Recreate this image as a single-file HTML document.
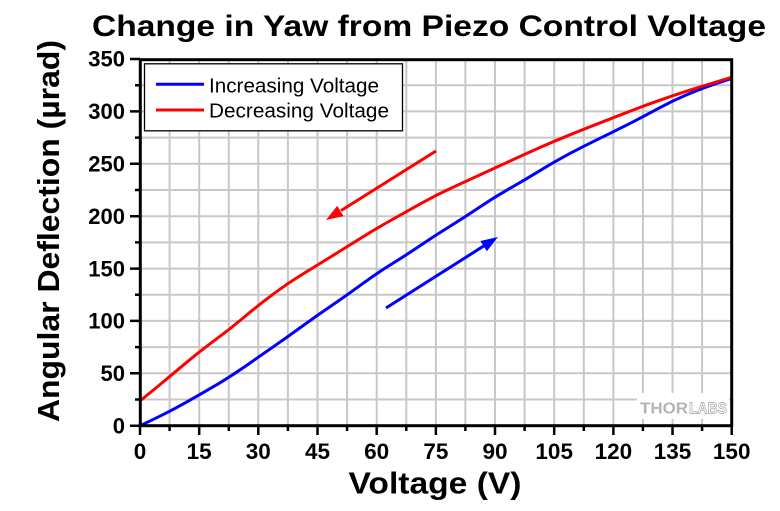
<!DOCTYPE html>
<html><head><meta charset="utf-8"><style>
html,body{margin:0;padding:0;background:#fff;}
svg{display:block;}
text{font-family:"Liberation Sans",Arial,sans-serif;}
</style></head><body>
<svg width="780" height="511" viewBox="0 0 780 511" xmlns="http://www.w3.org/2000/svg">
<rect width="780" height="511" fill="#fff"/>
<g stroke="#c8c8c8" stroke-width="2" fill="none">
<path d="M169.6 60V425.7M199.2 60V425.7M228.8 60V425.7M258.3 60V425.7M287.9 60V425.7M317.5 60V425.7M347.1 60V425.7M376.7 60V425.7M406.3 60V425.7M435.9 60V425.7M465.4 60V425.7M495 60V425.7M524.6 60V425.7M554.2 60V425.7M583.8 60V425.7M613.4 60V425.7M642.9 60V425.7M672.5 60V425.7M702.1 60V425.7"/>
<path d="M140 399.5H731.7M140 373.3H731.7M140 347.1H731.7M140 320.9H731.7M140 294.7H731.7M140 268.6H731.7M140 242.4H731.7M140 216.2H731.7M140 190H731.7M140 163.8H731.7M140 137.6H731.7M140 111.4H731.7M140 85.2H731.7"/>
</g>
<rect x="637" y="393" width="92" height="26" fill="#fff"/>
<text x="640" y="413.3" font-size="16" font-weight="bold" fill="#b4b4b4" textLength="48" lengthAdjust="spacingAndGlyphs">THOR</text>
<text x="689" y="413.3" font-size="16" font-weight="bold" fill="#fff" stroke="#b4b4b4" stroke-width="0.9" textLength="38" lengthAdjust="spacingAndGlyphs">LABS</text>

<path fill="none" stroke="#0000ff" stroke-width="3" stroke-linejoin="round" d="M140,425.7 L154.8,418.7 Q169.6,411.7 184.4,403.35 Q199.2,395 214,386.35 Q228.8,377.7 243.55,367.5 Q258.3,357.3 273.1,346.95 Q287.9,336.6 302.7,325.85 Q317.5,315.1 332.3,305.1 Q347.1,295.1 361.9,284.2 Q376.7,273.3 391.5,264.15 Q406.3,255 421.1,245 Q435.9,235 450.65,225.9 Q465.4,216.8 480.2,206.8 Q495,196.8 509.8,188.45 Q524.6,180.1 539.4,170.95 Q554.2,161.8 569,153.95 Q583.8,146.1 598.6,138.95 Q613.4,131.8 628.15,124.3 Q642.9,116.8 657.7,108.8 Q672.5,100.8 687.3,94.55 Q702.1,88.3 716.9,83.35 L731.7,78.4"/>
<path fill="none" stroke="#ff0000" stroke-width="3" stroke-linejoin="round" d="M140,401 L154.8,388.85 Q169.6,376.7 184.4,364.2 Q199.2,351.7 214,340.85 Q228.8,330 243.55,317.6 Q258.3,305.2 273.1,294.2 Q287.9,283.2 302.7,274.1 Q317.5,265 332.3,255.85 Q347.1,246.7 361.9,237.5 Q376.7,228.3 391.5,220 Q406.3,211.7 421.1,203.45 Q435.9,195.2 450.65,188.4 Q465.4,181.6 480.2,174.8 Q495,168 509.8,161.15 Q524.6,154.3 539.4,147.75 Q554.2,141.2 569,135.2 Q583.8,129.2 598.6,123.45 Q613.4,117.7 628.15,111.95 Q642.9,106.2 657.7,100.95 Q672.5,95.7 687.3,90.95 Q702.1,86.2 716.9,81.75 L731.7,77.3"/>

<line x1="436" y1="151" x2="341" y2="210.6" stroke="#ff0000" stroke-width="3"/>
<polygon points="326,220 343.6,216.1 337.2,205.9" fill="#ff0000"/>
<line x1="386" y1="308" x2="484" y2="245.8" stroke="#0000ff" stroke-width="3"/>
<polygon points="498,237 486.8,251.2 480.4,241" fill="#0000ff"/>

<rect x="144.5" y="63.8" width="258" height="67" fill="#fff" stroke="#000" stroke-width="1.3"/>
<line x1="156" y1="84.3" x2="204" y2="84.3" stroke="#0000ff" stroke-width="3"/>
<line x1="156" y1="110" x2="204" y2="110" stroke="#ff0000" stroke-width="3"/>
<text x="209" y="92.3" font-size="20.5" fill="#000" textLength="170" lengthAdjust="spacingAndGlyphs">Increasing Voltage</text>
<text x="209" y="117.3" font-size="20.5" fill="#000" textLength="180" lengthAdjust="spacingAndGlyphs">Decreasing Voltage</text>

<g stroke="#000" fill="none">
<rect x="140.3" y="59.7" width="591.4" height="366" stroke-width="3"/>
<path stroke-width="2.5" d="M130 425.7H140M130 373.3H140M130 320.9H140M130 268.6H140M130 216.2H140M130 163.8H140M130 111.4H140M130 59H140"/>
<path stroke-width="2.5" d="M135 399.5H140M135 347.1H140M135 294.7H140M135 242.4H140M135 190H140M135 137.6H140M135 85.2H140"/>
<path stroke-width="2.5" d="M140 425.7V435M199.2 425.7V435M258.3 425.7V435M317.5 425.7V435M376.7 425.7V435M435.9 425.7V435M495 425.7V435M554.2 425.7V435M613.4 425.7V435M672.5 425.7V435M731.7 425.7V435"/>
<path stroke-width="2.5" d="M169.6 425.7V431M228.8 425.7V431M287.9 425.7V431M347.1 425.7V431M406.3 425.7V431M465.4 425.7V431M524.6 425.7V431M583.8 425.7V431M642.9 425.7V431M702.1 425.7V431"/>
</g>

<g font-size="22" font-weight="bold" fill="#000" text-anchor="end">
<text x="125" y="433.5">0</text>
<text x="125" y="381">50</text>
<text x="125" y="328.6">100</text>
<text x="125" y="276.3">150</text>
<text x="125" y="223.9">200</text>
<text x="125" y="171.5">250</text>
<text x="125" y="119.1">300</text>
<text x="125" y="66.7">350</text>
</g>
<g font-size="22.5" font-weight="bold" fill="#000" text-anchor="middle">
<text x="140" y="459">0</text>
<text x="199.2" y="459">15</text>
<text x="258.3" y="459">30</text>
<text x="317.5" y="459">45</text>
<text x="376.7" y="459">60</text>
<text x="435.9" y="459">75</text>
<text x="495" y="459">90</text>
<text x="554.2" y="459">105</text>
<text x="613.4" y="459">120</text>
<text x="672.5" y="459">135</text>
<text x="731.7" y="459">150</text>
</g>

<text x="429" y="36" font-size="30" font-weight="bold" fill="#000" text-anchor="middle" textLength="674" lengthAdjust="spacingAndGlyphs">Change in Yaw from Piezo Control Voltage</text>
<text x="435" y="493.3" font-size="31" font-weight="bold" fill="#000" text-anchor="middle" textLength="173" lengthAdjust="spacingAndGlyphs">Voltage (V)</text>
<text transform="translate(59,231) rotate(-90)" x="0" y="0" font-size="31" font-weight="bold" fill="#000" text-anchor="middle" textLength="382" lengthAdjust="spacingAndGlyphs">Angular Deflection (µrad)</text>
</svg>
</body></html>
